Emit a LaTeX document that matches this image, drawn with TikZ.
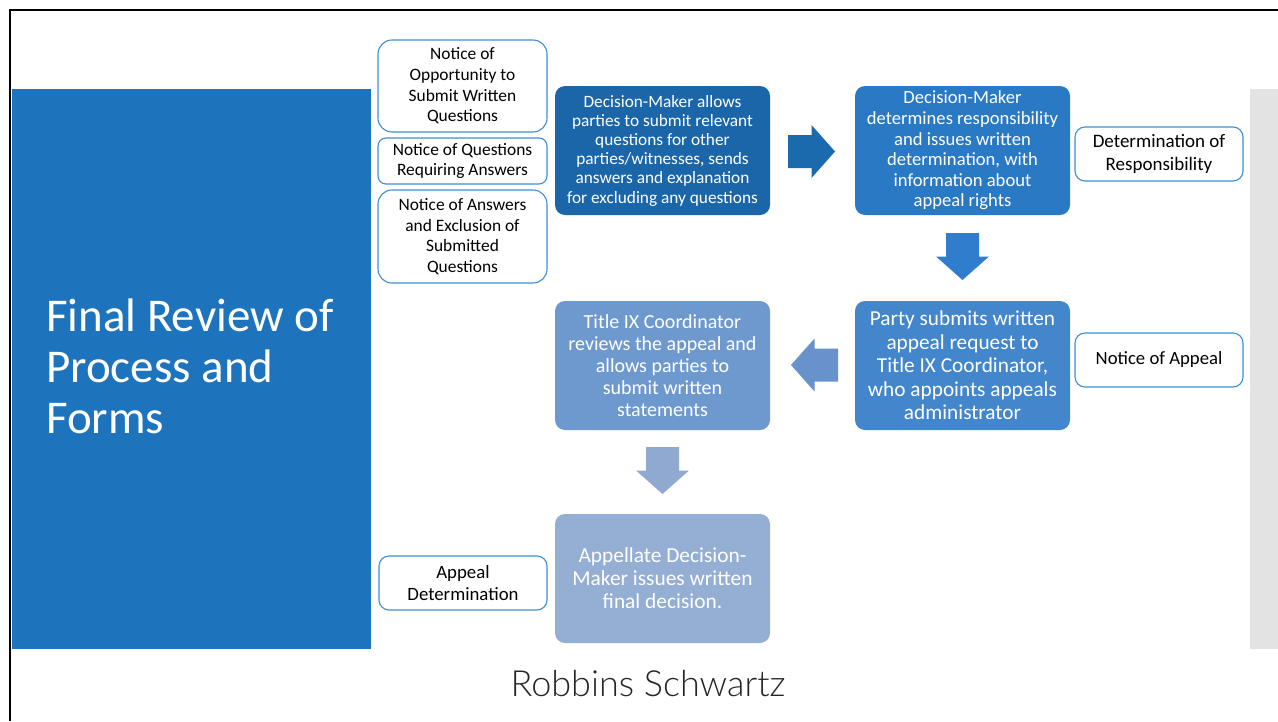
\documentclass[tikz,border=0pt]{standalone}
\usepackage{fontspec}
\setmainfont{Carlito}
\newfontfamily\rsfont{Lato Light}
\usetikzlibrary{calc}
\definecolor{panelblue}{HTML}{1E74BC}
\definecolor{cA}{HTML}{1B66A9}
\definecolor{cArA}{HTML}{1C6AAE}
\definecolor{cB}{HTML}{2A79C4}
\definecolor{cArB}{HTML}{2F7DCC}
\definecolor{cC}{HTML}{4386CC}
\definecolor{cArC}{HTML}{6792CC}
\definecolor{cD}{HTML}{6E99CE}
\definecolor{cArD}{HTML}{8FA9D1}
\definecolor{cE}{HTML}{95AED4}
\definecolor{noteline}{HTML}{3D8EDA}
\definecolor{stripgray}{HTML}{E3E3E3}
\newcommand\BlkArrow[3]{%
  \fill[#3, shift={(#1)}, rotate=#2]
    (-23.5,-16.5) -- (0,-16.5) -- (0,-26.5) -- (23.5,0) -- (0,26.5) -- (0,16.5) -- (-23.5,16.5) -- cycle;}
\begin{document}
\begin{tikzpicture}[x=1pt,y=-1pt,
  stepbox/.style={rounded corners=10pt, minimum width=215pt, minimum height=129pt,
    inner sep=0pt, text=white, align=center},
  notebox/.style={draw=noteline, line width=1.1pt, fill=white, inner sep=0pt,
    align=center, text=black}]
\useasboundingbox (0,0) rectangle (1278,721);
\fill[white] (0,0) rectangle (1278,721);
% frame
\draw[line width=2.5pt] (10.2,721) -- (10.2,10.2) -- (1278,10.2);
% gray strip
\fill[stripgray] (1250,89) rectangle (1278,649);
% title panel
\fill[panelblue] (11.5,89) rectangle (371,649);
\node[anchor=base west, text=white, inner sep=0pt, align=left,
  font=\fontsize{47}{51}\selectfont] (title) at (46,433)
  {Final Review of\\Process and\\Forms};
% process boxes
\node[stepbox, fill=cA, font=\fontsize{17.3}{19.2}\selectfont] (b1) at (662.5,150.5)
  {Decision-Maker allows\\parties to submit relevant\\questions for other\\parties/witnesses, sends\\answers and explanation\\for excluding any questions};
\node[stepbox, fill=cB, font=\fontsize{18.6}{20.6}\selectfont] (b2) at (962.5,150.5)
  {Decision-Maker\\determines responsibility\\and issues written\\determination, with\\information about\\appeal rights};
\node[stepbox, fill=cC, font=\fontsize{21.3}{23.5}\selectfont] (b3) at (962.5,365.5)
  {Party submits written\\appeal request to\\Title IX Coordinator,\\who appoints appeals\\administrator};
\node[stepbox, fill=cD, font=\fontsize{20}{22}\selectfont] (b4) at (662.5,365.5)
  {Title IX Coordinator\\reviews the appeal and\\allows parties to\\submit written\\statements};
\node[stepbox, fill=cE, font=\fontsize{21.4}{23}\selectfont] (b5) at (662.5,578.5)
  {Appellate Decision-\\Maker issues written\\final decision.};
% notice boxes
\node[notebox, rounded corners=14pt, minimum width=169pt, minimum height=92pt,
  font=\fontsize{17.4}{20.7}\selectfont] (n1) at (462.5,86)
  {Notice of\\Opportunity to\\Submit Written\\Questions};
\node[notebox, rounded corners=8pt, minimum width=169pt, minimum height=46pt,
  font=\fontsize{17.4}{20.7}\selectfont] (n2) at (462.5,161)
  {Notice of Questions\\Requiring Answers};
\node[notebox, rounded corners=14pt, minimum width=169pt, minimum height=93pt,
  font=\fontsize{17.4}{20.7}\selectfont] (n3) at (462.5,236.5)
  {Notice of Answers\\and Exclusion of\\Submitted\\Questions};
\node[notebox, rounded corners=10pt, minimum width=168pt, minimum height=54pt,
  font=\fontsize{19}{23.3}\selectfont] (n4) at (1159,154)
  {Determination of\\Responsibility};
\node[notebox, rounded corners=10pt, minimum width=168pt, minimum height=54pt,
  font=\fontsize{18.7}{23.3}\selectfont] (n5) at (1159,360)
  {\raisebox{-2pt}{Notice of Appeal}};
\node[notebox, rounded corners=10pt, minimum width=168pt, minimum height=54pt,
  font=\fontsize{18.8}{22}\selectfont] (n6) at (463,583)
  {Appeal\\Determination};
% block arrows
\coordinate (a1) at ($(b1.east)!0.5!(b2.west)+(-1,1)$);
\coordinate (a2) at ($(b2.south)!0.5!(b3.north)+(0,-1.5)$);
\coordinate (a3) at ($(b3.west)!0.5!(b4.east)+(2,-0.5)$);
\coordinate (a4) at ($(b4.south)!0.5!(b5.north)+(0,-1.5)$);
\BlkArrow{a1}{0}{cArA}
\BlkArrow{a2}{-90}{cArB}
\BlkArrow{a3}{180}{cArC}
\BlkArrow{a4}{-90}{cArD}
% footer
\node[anchor=base, inner sep=0pt, text=black!85, font=\rsfont\fontsize{36}{40}\selectfont] (rs) at (648,696) {Robbins Schwartz};
\end{tikzpicture}
\end{document}
